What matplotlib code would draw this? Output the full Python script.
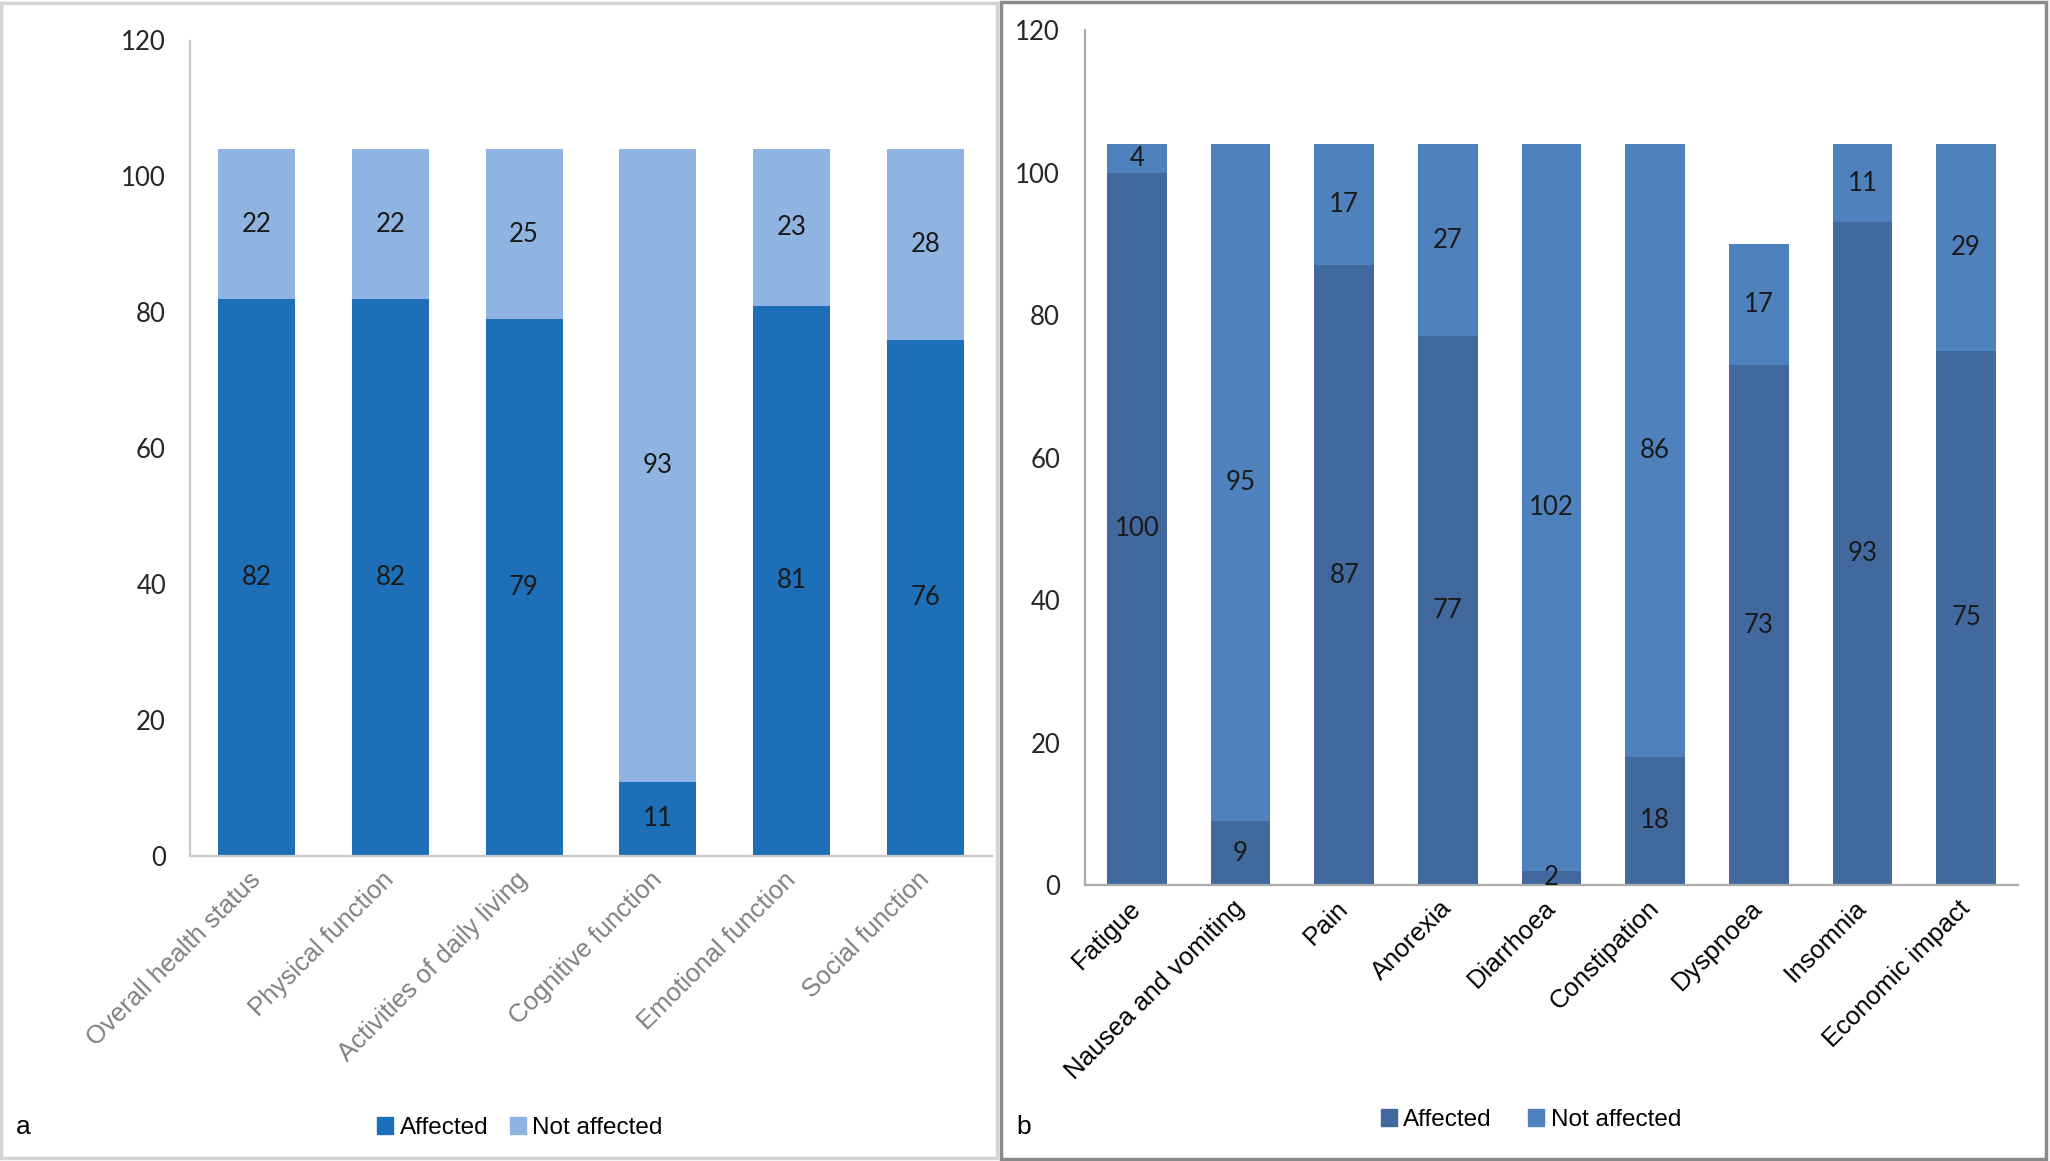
import matplotlib
matplotlib.use("Agg")
import matplotlib.pyplot as plt
from matplotlib.patches import Rectangle, Patch

# ---- data ----
cats_a = ["Overall health status", "Physical function", "Activities of daily living",
          "Cognitive function", "Emotional function", "Social function"]
aff_a = [82, 82, 79, 11, 81, 76]
notaff_a = [22, 22, 25, 93, 23, 28]

cats_b = ["Fatigue", "Nausea and vomiting", "Pain", "Anorexia", "Diarrhoea",
          "Constipation", "Dyspnoea", "Insomnia", "Economic impact"]
aff_b = [100, 9, 87, 77, 2, 18, 73, 93, 75]
notaff_b = [4, 95, 17, 27, 102, 86, 17, 11, 29]

yticks = [0, 20, 40, 60, 80, 100, 120]
series_names = ["Affected", "Not affected"]

W, H = 2050, 1161
fig = plt.figure(figsize=(W / 100, H / 100), dpi=100)
fig.patch.set_facecolor("white")

num_font = "Lato"
lab_font = "Liberation Sans"

# panel borders
fig.patches.append(Rectangle((1 / W, 3 / H), 996 / W, 1155 / H, transform=fig.transFigure,
                             fill=False, edgecolor="#d4d4d4", linewidth=2.5))
fig.patches.append(Rectangle((1001 / W, 2 / H), 1045 / W, 1157 / H, transform=fig.transFigure,
                             fill=False, edgecolor="#8a8a8a", linewidth=2.5))


def panel(rect, cats, aff, notaff, c_aff, c_not, axcol, labcol, ypad):
    ax = fig.add_axes(rect)
    x = list(range(len(cats)))
    ax.bar(x, aff, width=0.575, color=c_aff, linewidth=0)
    ax.bar(x, notaff, width=0.575, bottom=aff, color=c_not, linewidth=0)
    for xi, a, n in zip(x, aff, notaff):
        ax.text(xi, a / 2, str(a), ha="center", va="center", fontsize=18.5,
                family=num_font, color="#1a1a1a")
        ax.text(xi, a + n / 2, str(n), ha="center", va="center", fontsize=18.5,
                family=num_font, color="#1a1a1a")
    ax.set_xlim(-0.5, len(cats) - 0.5)
    ax.set_ylim(0, 120)
    ax.set_yticks(yticks)
    ax.set_yticklabels([str(t) for t in yticks], family=num_font, fontsize=18.5,
                       color="#262626")
    ax.tick_params(axis="y", length=0, pad=ypad)
    ax.tick_params(axis="x", length=0, pad=14)
    ax.set_xticks(x)
    ax.set_xticklabels(cats, rotation=45, ha="right", va="center",
                       rotation_mode="anchor", family=lab_font, fontsize=18.5,
                       color=labcol)
    for s in ["top", "right"]:
        ax.spines[s].set_visible(False)
    for s in ["left", "bottom"]:
        ax.spines[s].set_color(axcol)
        ax.spines[s].set_linewidth(1.6)
    return ax


ax_a = panel([189.6 / W, 1 - 856.3 / H, (992.3 - 189.6) / W, (856.3 - 40.5) / H],
             cats_a, aff_a, notaff_a, "#1d6fb8", "#8fb4e1", "#c8c8c8", "#808080", 17)
ax_b = panel([1085.1 / W, 1 - 885.1 / H, (2018.0 - 1085.1) / W, (885.1 - 30.1) / H],
             cats_b, aff_b, notaff_b, "#41699e", "#4f81bd", "#ababab", "#000000", 18)

# legends
h_a = [Patch(color="#1d6fb8"), Patch(color="#8fb4e1")]
fig.legend(h_a, series_names, loc="center", bbox_to_anchor=(520 / W, 1 - 1128 / H),
           ncol=2, frameon=False, prop={"family": lab_font, "size": 17.5},
           handlelength=0.66, handleheight=0.66, handletextpad=0.27,
           columnspacing=0.86, borderpad=0)
h_b = [Patch(color="#41699e"), Patch(color="#4f81bd")]
fig.legend(h_b, series_names, loc="center", bbox_to_anchor=(1531 / W, 1 - 1120 / H),
           ncol=2, frameon=False, prop={"family": lab_font, "size": 17.5},
           handlelength=0.66, handleheight=0.66, handletextpad=0.27,
           columnspacing=1.5, borderpad=0)

fig.text(16 / W, 1 - 1127 / H, "a", ha="left", va="center", family=lab_font,
         fontsize=19, color="#000000")
fig.text(1016 / W, 1 - 1127 / H, "b", ha="left", va="center", family=lab_font,
         fontsize=19, color="#000000")

fig.savefig("out.png", dpi=100, facecolor="white")
